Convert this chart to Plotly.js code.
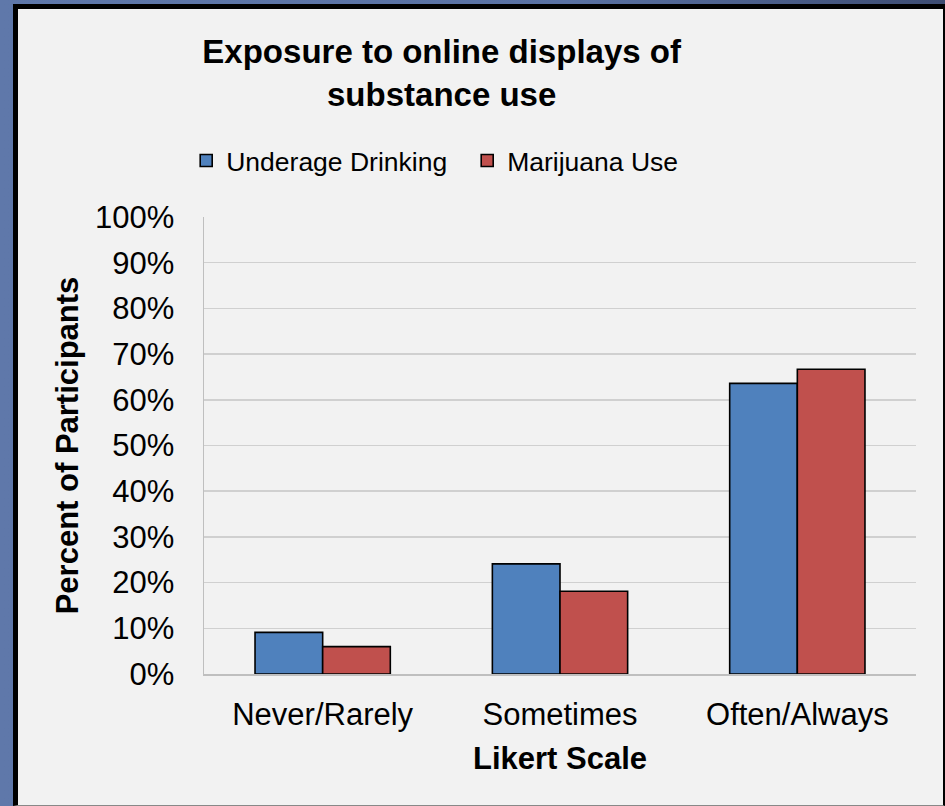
<!DOCTYPE html>
<html>
<head>
<meta charset="utf-8">
<script src="https://cdn.plot.ly/plotly-3.0.1.min.js"></script>
<style>
  html, body { margin: 0; padding: 0; }
  body {
    width: 945px; height: 806px; overflow: hidden;
    background: linear-gradient(90deg, #5f78aa 0%, #5a72a4 60%, #3d4c72 100%);
    position: relative;
  }
  #frame {
    position: absolute; left: 13px; top: 4px;
    width: 932px; height: 802px; box-sizing: border-box;
    border-left: 5px solid #000; border-top: 5px solid #000;
    border-right: 2px solid #000; border-bottom: 1px solid #888;
    background: #f2f2f2;
  }
  #chart { width: 925px; height: 796px; }
</style>
</head>
<body>
<div id="frame"><div id="chart"></div></div>
<script>
// Frequency categories on the Likert scale
const categories = ['Never/Rarely', 'Sometimes', 'Often/Always'];
// Percent of participants per category
const underageDrinking = [9.1, 24.1, 63.6];
const marijuanaUse = [6.0, 18.1, 66.7];
// Y-axis ticks (percent)
const yTickVals = [0, 10, 20, 30, 40, 50, 60, 70, 80, 90, 100];
const yTickText = yTickVals.map(v => v + '%');

const FONT = 'Liberation Sans, Arial, Helvetica, sans-serif';

const traces = [
  {
    type: 'bar', name: 'Underage Drinking',
    x: categories, y: underageDrinking,
    marker: { color: '#4f81bd', line: { color: '#000000', width: 1.6 } },
    hoverinfo: 'none'
  },
  {
    type: 'bar', name: 'Marijuana Use',
    x: categories, y: marijuanaUse,
    marker: { color: '#c0504d', line: { color: '#000000', width: 1.6 } },
    hoverinfo: 'none'
  }
];

const layout = {
  width: 925, height: 796,
  paper_bgcolor: '#f2f2f2', plot_bgcolor: '#f2f2f2',
  margin: { l: 185.5, r: 27, t: 208.3, b: 130.7 },
  font: { family: FONT, color: '#000000' },
  barmode: 'group', bargap: 0.43, bargroupgap: 0,
  title: {
    text: '<b>Exposure to online displays of<br>substance use</b>',
    font: { family: FONT, size: 33, color: '#000000' },
    xref: 'container', x: 0.458, xanchor: 'center',
    yref: 'container', y: 0.932, yanchor: 'top'
  },
  showlegend: true,
  legend: {
    orientation: 'h', x: -0.025, xanchor: 'left',
    y: 1.123, yanchor: 'middle',
    font: { family: FONT, size: 26.5, color: '#000000' },
    itemwidth: 30, traceorder: 'normal',
    entrywidth: 236, entrywidthmode: 'pixels',
    bgcolor: 'rgba(0,0,0,0)'
  },
  xaxis: {
    type: 'category',
    showgrid: false, zeroline: false,
    showline: true, linecolor: '#bfbfbf', linewidth: 1.5,
    ticks: '', ticklabelstandoff: 12,
    tickfont: { family: FONT, size: 31, color: '#000000' },
    title: { text: '<b>Likert Scale</b>', font: { family: FONT, size: 31, color: '#000000' }, standoff: 16 }
  },
  yaxis: {
    range: [0, 100],
    tickvals: yTickVals, ticktext: yTickText,
    showgrid: true, gridcolor: '#d0d0d0', gridwidth: 1.5,
    zeroline: false,
    showline: true, linecolor: '#bfbfbf', linewidth: 1.5,
    ticks: '', ticklabelstandoff: 22,
    tickfont: { family: FONT, size: 31, color: '#000000' },
    title: { text: '<b>Percent of Participants</b>', font: { family: FONT, size: 31, color: '#000000' }, standoff: 7 }
  }
};

Plotly.newPlot('chart', traces, layout, { staticPlot: true, displayModeBar: false });
</script>
</body>
</html>
